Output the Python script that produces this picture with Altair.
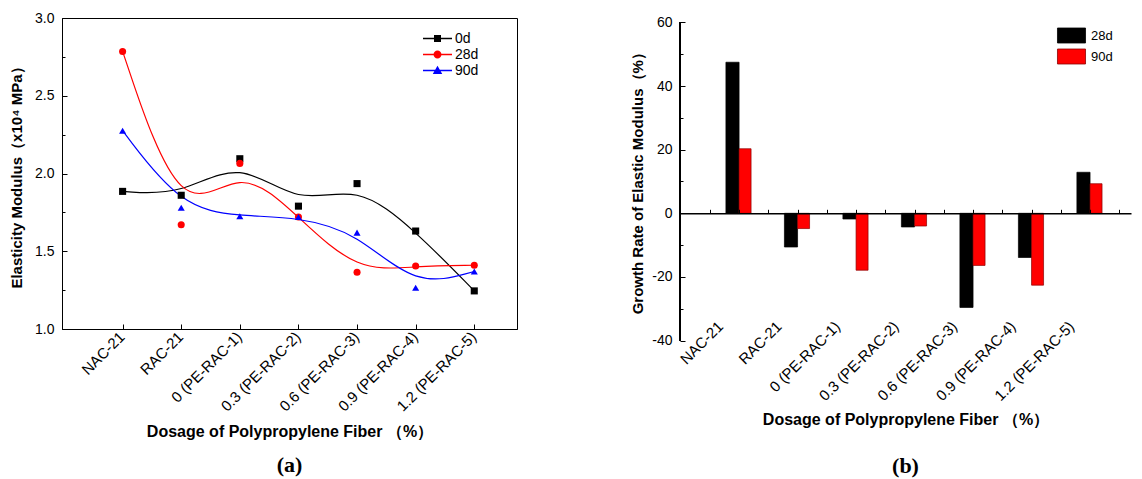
import altair as alt
import pandas as pd

# ---------------- data ----------------
categories = ["NAC-21", "RAC-21", "0 (PE-RAC-1)", "0.3 (PE-RAC-2)",
              "0.6 (PE-RAC-3)", "0.9 (PE-RAC-4)", "1.2 (PE-RAC-5)"]

series_a = ["0d", "28d", "90d"]
modulus_0d = [1.885, 1.86, 2.095, 1.79, 1.935, 1.63, 1.245]
modulus_28d = [2.785, 1.67, 2.065, 1.72, 1.365, 1.405, 1.41]
modulus_90d = [2.275, 1.78, 1.725, 1.72, 1.62, 1.265, 1.37]

series_b = ["28d", "90d"]
growth_28d = [47.5, -10.6, -1.8, -4.3, -29.6, -13.9, 12.9]
growth_90d = [20.3, -4.8, -17.9, -4.0, -16.4, -22.6, 9.3]

y_ticks_a = [1.0, 1.5, 2.0, 2.5, 3.0]
y_ticks_b = [-40, -20, 0, 20, 40, 60]

rows_a = []
for s, vals in zip(series_a, [modulus_0d, modulus_28d, modulus_90d]):
    for i, v in enumerate(vals):
        rows_a.append({"series": s, "idx": i, "value": v})
df_a = pd.DataFrame(rows_a)

rows_b = []
for s, vals in zip(series_b, [growth_28d, growth_90d]):
    for i, v in enumerate(vals):
        rows_b.append({"series": s, "idx": i, "value": v})
df_b = pd.DataFrame(rows_b)

# ---------------- style ----------------
FONT = "Liberation Sans"
LABEL_SIZE = 14
CAT_SIZE = 15
label_expr = "[" + ",".join("'%s'" % c for c in categories) + "][datum.value]"
cat_idx = list(range(len(categories)))

W_A, H_A = 455, 311
W_B, H_B = 451, 322.5
Y_B_MIN, Y_B_MAX = -40, 61.415   # small headroom above the 60 tick

colors_a = ["#000000", "#ff0000", "#0000ff"]
markers_a = ["square", "circle", "triangle-up"]
x_scale_a = alt.Scale(domain=[-1.034, 6.729], nice=False, zero=False)
y_scale_a = alt.Scale(domain=[1.0, 3.0], nice=False, zero=False)
color_scale_a = alt.Scale(domain=series_a, range=colors_a)

# legend symbols for (a): a thin filled bar with the marker on it
BAR = "M-2.9,-0.13H2.9V0.13H-2.9Z"
paths_a = [
    BAR + "M-0.7,-0.7H0.7V0.7H-0.7Z",
    BAR + "M0.8,0A0.8,0.8,0,1,1,-0.8,0A0.8,0.8,0,1,1,0.8,0Z",
    BAR + "M0,-0.95L0.95,0.7H-0.95Z",
]


def pick_expr(values):
    expr = "'%s'" % values[-1]
    for s, v in reversed(list(zip(series_a[:-1], values[:-1]))):
        expr = "datum.value === '%s' ? '%s' : (%s)" % (s, v, expr)
    return expr


leg_a = alt.Legend(
    orient="none", legendX=368.5, legendY=13.5, title=None,
    symbolSize=100, symbolStrokeWidth=0, labelFontSize=LABEL_SIZE,
    labelFontWeight="normal", labelOffset=10.5, rowPadding=2,
    symbolType={"expr": pick_expr(paths_a)},
    symbolFillColor={"expr": pick_expr(colors_a)},
    symbolStrokeColor={"expr": pick_expr(colors_a)},
    symbolOpacity=1,
)

# ---------------- chart (a) ----------------
lines_a = alt.Chart(df_a).mark_line(interpolate="basis", strokeWidth=1.2).encode(
    x=alt.X("idx:Q", scale=x_scale_a,
            axis=alt.Axis(values=cat_idx, labelExpr=label_expr, labelAngle=-45,
                          labelAlign="right", labelBaseline="middle", labelOverlap=False,
                          labelFontSize=CAT_SIZE,
                          labelPadding=5, labelOffset=-1, ticks=False, tickSize=0,
                          domain=True, grid=False,
                          title="Dosage of Polypropylene Fiber （%）", titleFontSize=16,
                          titlePadding=10)),
    y=alt.Y("value:Q", scale=y_scale_a,
            axis=alt.Axis(values=y_ticks_a, format=".1f", ticks=False, tickSize=0,
                          labelPadding=8, grid=False, labelFontSize=LABEL_SIZE,
                          labelOverlap=False,
                          title="Elasticity Modulus（x10⁴ MPa）", titleFontSize=15,
                          titlePadding=10)),
    color=alt.Color("series:N", scale=color_scale_a, legend=leg_a),
)

# inward ticks of (a) drawn by a tick-only axis pair
ticks_a = alt.Chart(df_a).mark_point(opacity=0).encode(
    x=alt.X("idx:Q", scale=x_scale_a,
            axis=alt.Axis(orient="top", offset=-H_A, values=cat_idx, labels=False,
                          domain=False, ticks=True, tickSize=5, grid=False, title=None)),
    y=alt.Y("value:Q", scale=y_scale_a,
            axis=alt.Axis(orient="right", offset=-W_A,
                          values=[1.0, 1.25, 1.5, 1.75, 2.0, 2.25, 2.5, 2.75, 3.0],
                          labels=False, domain=False, grid=False, title=None,
                          tickSize={"condition": {"test": "abs(datum.value*2 - round(datum.value*2)) < 0.01", "value": 5}, "value": 3})),
)

point_layers = []
for s, c, m in zip(series_a, colors_a, markers_a):
    point_layers.append(
        alt.Chart(df_a).transform_filter(alt.datum.series == s)
        .mark_point(filled=True, size=50, opacity=1, shape=m, color=c)
        .encode(
            x=alt.X("idx:Q", scale=x_scale_a, axis=None),
            y=alt.Y("value:Q", scale=y_scale_a, axis=None),
        )
    )

chart_a = alt.layer(lines_a, ticks_a, *point_layers).resolve_axis(
    x="independent", y="independent"
).properties(
    width=W_A, height=H_A,
    view=alt.ViewBackground(stroke="#000000", strokeWidth=1),
    title=alt.TitleParams("(a)", orient="bottom", anchor="middle", font="Liberation Serif",
                          fontSize=22, fontWeight="bold", offset=15, color="#000"),
)

# ---------------- chart (b) ----------------
x_scale_b = alt.Scale(domain=[-1.01, 6.70], nice=False, zero=False)
y_scale_b = alt.Scale(domain=[Y_B_MIN, Y_B_MAX], nice=False, zero=False)
zero_offset = -H_B * Y_B_MAX / (Y_B_MAX - Y_B_MIN)

leg_b = alt.Legend(orient="none", legendX=383.5, legendY=9.5, title=None,
                   symbolType="M-1.87,-1H1.87V1H-1.87Z", symbolSize=225,
                   symbolStrokeWidth=0.8, labelFontSize=LABEL_SIZE - 1,
                   labelFontWeight="normal", labelOffset=11.5, rowPadding=1)

bars_b = alt.Chart(df_b).transform_calculate(
    x0="datum.series == '28d' ? datum.idx - 0.225 : datum.idx",
    x1="datum.series == '28d' ? datum.idx : datum.idx + 0.205",
).mark_bar(strokeWidth=0.7).encode(
    x=alt.X("x0:Q", scale=x_scale_b,
            axis=alt.Axis(values=cat_idx, labelExpr=label_expr, labelAngle=-45,
                          labelAlign="right", labelBaseline="middle", labelOverlap=False,
                          labelFontSize=CAT_SIZE,
                          labelPadding=-17, labelOffset=-19, ticks=False, tickSize=0,
                          domain=False, grid=False,
                          title="Dosage of Polypropylene Fiber （%）", titleFontSize=16,
                          titlePadding=8)),
    x2="x1:Q",
    y=alt.Y("value:Q", scale=y_scale_b,
            axis=alt.Axis(values=y_ticks_b, labelExpr="'' + datum.value", ticks=False,
                          tickSize=0, labelPadding=8, labelOverlap=False, domain=False,
                          grid=False, labelFontSize=LABEL_SIZE,
                          title="Growth Rate of Elastic Modulus（%）", titleFontSize=15,
                          titlePadding=6)),
    y2=alt.datum(0),
    fill=alt.Fill("series:N", scale=alt.Scale(domain=series_b, range=["#000000", "#ff0000"]), legend=leg_b),
    stroke=alt.Stroke("series:N", scale=alt.Scale(domain=series_b, range=["#000000", "#8b0000"]), legend=leg_b),
)

# left axis line of (b), from the lowest to the highest tick
axis_line_b = alt.Chart(df_b).mark_rule(color="#000", strokeWidth=1).encode(
    x=alt.value(0),
    y=alt.YDatum(y_ticks_b[0], scale=y_scale_b, axis=None),
    y2=alt.Y2Datum(y_ticks_b[-1]),
)

ticks_b = alt.Chart(df_b).mark_point(opacity=0).encode(
    x=alt.X("idx:Q", scale=x_scale_b,
            axis=alt.Axis(orient="top", offset=zero_offset,
                          values=[-0.5, 0, 0.5, 1, 1.5, 2, 2.5, 3, 3.5, 4, 4.5, 5, 5.5, 6, 6.5],
                          labels=False, domain=True, domainWidth=1.6, ticks=True, tickSize=4,
                          grid=False, title=None, zindex=1)),
    y=alt.Y("value:Q", scale=y_scale_b,
            axis=alt.Axis(orient="right", offset=-W_B,
                          values=[-40, -30, -20, -10, 0, 10, 20, 30, 40, 50, 60],
                          labels=False, domain=False, grid=False, title=None,
                          tickSize={"condition": {"test": "datum.value % 20 === 0", "value": 5}, "value": 3})),
)

chart_b = alt.layer(bars_b, axis_line_b, ticks_b).resolve_axis(
    x="independent", y="independent"
).properties(
    width=W_B, height=H_B,
    title=alt.TitleParams("(b)", orient="bottom", anchor="middle", font="Liberation Serif",
                          fontSize=22, fontWeight="bold", offset=29, color="#000"),
)

chart = alt.hconcat(chart_a, chart_b, spacing=112).resolve_scale(
    color="independent", fill="independent", stroke="independent", shape="independent"
).resolve_legend(
    color="independent", fill="independent", stroke="independent", shape="independent"
).properties(
    padding={"left": 1, "top": 2, "right": 0, "bottom": 0}
).configure_view(stroke="transparent").configure_axis(
    labelFont=FONT, titleFont=FONT, labelColor="#000", titleColor="#000",
    domainColor="#000", tickColor="#000", labelFontSize=LABEL_SIZE, titleFontSize=15,
    titleFontWeight="bold", labelFontWeight="normal",
).configure_legend(labelFont=FONT, labelColor="#000")

chart.save("out.html", embed_options={"renderer": "svg", "actions": False})
